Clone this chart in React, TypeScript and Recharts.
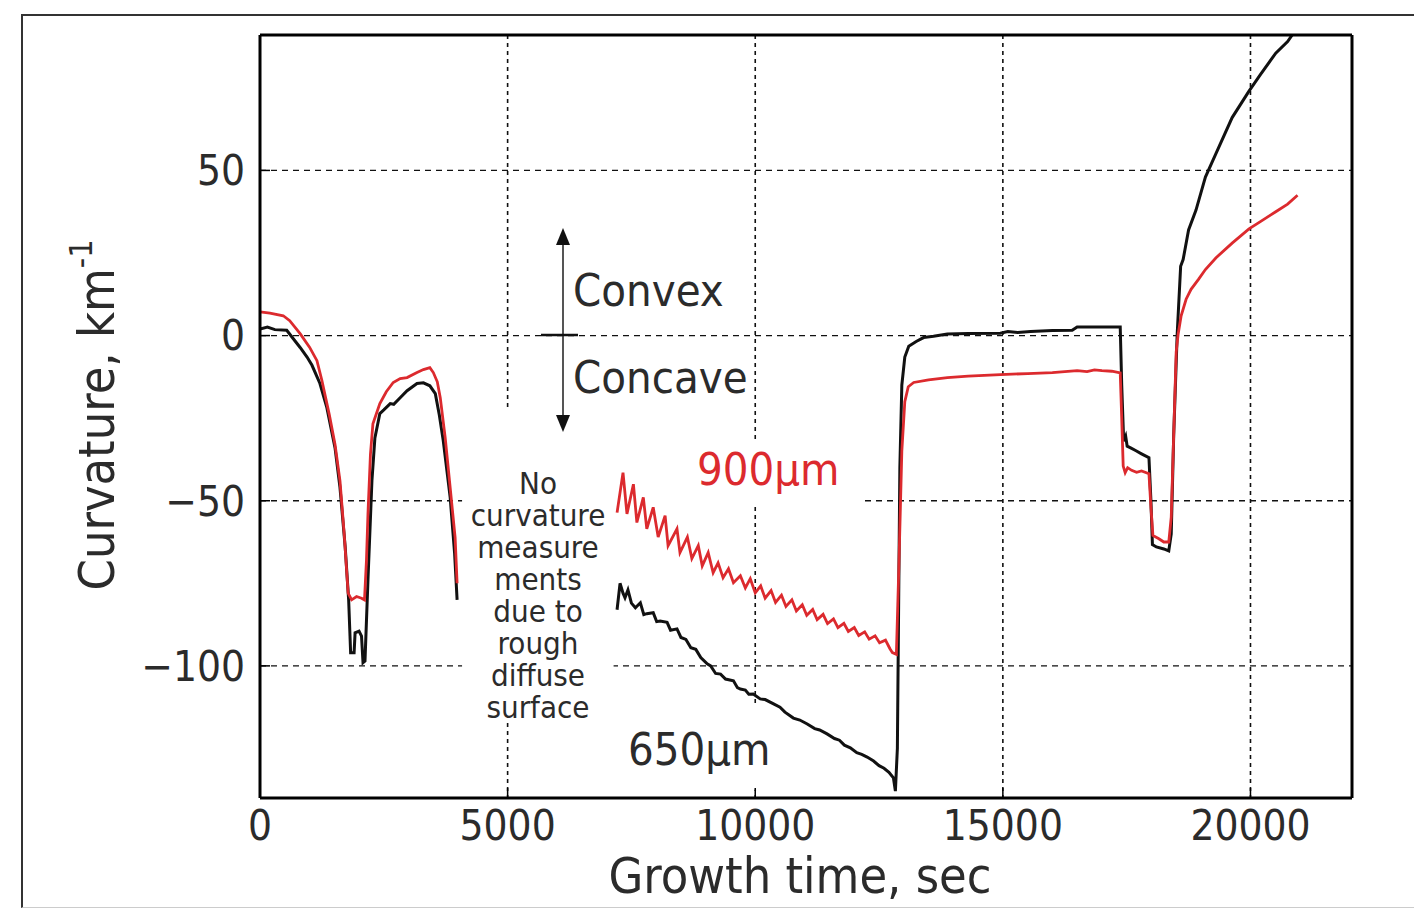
import React from 'react';
import {
  LineChart, Line, XAxis, YAxis, CartesianGrid, ReferenceArea
} from 'recharts';

// [growth time (s), curvature (km^-1)]
const black650Early: [number, number][] = [
  [0, 2.0], [150, 2.6], [300, 1.8], [540, 1.6], [700, -1.5], [810, -3.6], [950, -6.5],
  [1050, -9], [1210, -14.5], [1350, -21.8], [1515, -34], [1615, -46], [1720, -64],
  [1790, -80], [1830, -96], [1900, -96], [1920, -90], [2000, -89.5], [2050, -91],
  [2080, -99], [2120, -98.5], [2180, -74], [2260, -44], [2320, -31], [2420, -23.6],
  [2500, -22.5], [2630, -20.6], [2700, -20.8], [2830, -18.8], [2970, -16.7],
  [3170, -14.5], [3300, -14.3], [3430, -15.2], [3540, -17.6], [3620, -24],
  [3700, -31.8], [3840, -49], [3930, -66], [3980, -80],
];

const black650Late: [number, number][] = [
  [7210, -83], [7270, -75], [7330, -78], [7370, -79.4], [7430, -77], [7500, -81],
  [7580, -82.4], [7680, -80.9], [7750, -84.5], [7810, -84.2], [7940, -83.9],
  [8010, -86.6], [8080, -86.4], [8220, -86.8], [8290, -89.2], [8420, -88.8],
  [8500, -91.4], [8600, -92], [8700, -94.5], [8800, -95], [8900, -97.5],
  [9030, -99.4], [9100, -100], [9200, -102.3], [9300, -102.5], [9400, -104],
  [9560, -104.5], [9640, -106.6], [9700, -107], [9800, -107.3], [9870, -108.6],
  [9960, -108.5], [10100, -110], [10200, -110.2], [10370, -111.5], [10500, -112.5],
  [10600, -114], [10770, -115.8], [10900, -116.4], [11050, -117.6], [11200, -119],
  [11300, -119.4], [11450, -120.6], [11600, -122], [11700, -122.5], [11800, -124],
  [11920, -124.8], [12050, -126.3], [12150, -126.8], [12260, -127.6], [12390, -128.8],
  [12500, -130.2], [12600, -131], [12700, -132.2], [12790, -133.9], [12830, -137.9],
  [12870, -125], [12920, -40], [12960, -15], [13020, -6.5], [13100, -3.2],
  [13250, -1.8], [13400, -0.6], [13600, -0.2], [13880, 0.5], [14300, 0.6],
  [14950, 0.7], [15100, 1.2], [15300, 0.9], [15560, 1.2], [16000, 1.5], [16400, 1.6],
  [16500, 2.6], [17000, 2.6], [17370, 2.6], [17400, -15], [17440, -32], [17480, -30.5],
  [17510, -33.5], [17580, -34], [17680, -34.8], [17800, -35.8], [17950, -37],
  [17990, -50], [18020, -63.3], [18100, -64], [18250, -64.6], [18350, -65.2],
  [18400, -60], [18450, -30], [18520, 0.4], [18590, 21], [18640, 23], [18750, 32],
  [18900, 38], [19090, 48], [19300, 55], [19630, 66], [19970, 74], [20200, 79],
  [20510, 85.5], [20750, 89], [20910, 92.5],
];

const red900Early: [number, number][] = [
  [0, 7.2], [200, 6.8], [470, 6], [600, 4.5], [810, 0.6], [1000, -3.5], [1150, -7.6],
  [1250, -13.6], [1400, -24], [1515, -33], [1615, -44], [1700, -60], [1780, -78],
  [1850, -80], [1950, -79], [2050, -79.5], [2110, -80], [2150, -68], [2180, -54],
  [2230, -36], [2280, -26.7], [2420, -20.6], [2550, -17], [2690, -14.2], [2830, -13],
  [2970, -12.7], [3170, -11.2], [3300, -10.3], [3430, -9.7], [3500, -11.2],
  [3580, -14], [3640, -18.8], [3740, -31], [3840, -46], [3940, -61.2], [3980, -75],
];

const red900Late: [number, number][] = [
  [7210, -53.6], [7330, -41.5], [7410, -54], [7540, -45], [7610, -56.6], [7740, -49],
  [7810, -58.5], [7940, -52], [8040, -61], [8180, -54.5], [8240, -63.6], [8420, -58.5],
  [8480, -65.7], [8630, -61], [8720, -67.5], [8850, -63.6], [8930, -69.7], [9050, -65.7],
  [9150, -71.8], [9250, -68.8], [9350, -73.3], [9460, -70.6], [9560, -74.8],
  [9700, -72.7], [9800, -76.4], [9900, -73.6], [10000, -77.9], [10110, -75.8],
  [10200, -79.5], [10320, -77.2], [10410, -80.8], [10530, -78.6], [10620, -82],
  [10740, -80], [10830, -83.4], [10950, -81.5], [11040, -84.7], [11160, -82.9],
  [11250, -86], [11370, -84.4], [11460, -87.2], [11580, -85.8], [11670, -88.4],
  [11790, -87.1], [11880, -89.6], [12000, -88.4], [12090, -90.8], [12210, -89.7],
  [12300, -91.9], [12420, -90.9], [12510, -93], [12630, -92.2], [12720, -94.8],
  [12770, -96], [12850, -96.5], [12900, -70], [12960, -35], [13020, -20],
  [13090, -15.5], [13200, -14.2], [13500, -13.4], [13880, -12.7], [14300, -12.3],
  [14950, -11.8], [15500, -11.5], [16000, -11.2], [16500, -10.6], [16700, -10.9],
  [16850, -10.4], [17000, -10.6], [17200, -10.8], [17370, -11.3], [17400, -25],
  [17430, -39.5], [17470, -41.5], [17520, -40], [17600, -40.8], [17700, -41.4],
  [17800, -41], [17950, -41.8], [17990, -52], [18030, -60.5], [18150, -61.5],
  [18250, -62.5], [18350, -62.5], [18400, -55], [18460, -25], [18500, -5],
  [18540, 0.5], [18600, 6], [18700, 11], [18800, 14], [18950, 17], [19090, 20],
  [19300, 23.5], [19630, 28], [19970, 32.3], [20200, 34.5], [20510, 37.5],
  [20750, 39.8], [20950, 42.5],
];

const xTicks = [0, 5000, 10000, 15000, 20000];
const yTicks = [-100, -50, 0, 50];

const FONT = "'DejaVu Sans Condensed', 'DejaVu Sans', sans-serif";
const TEXT = '#2b2b2b';
const RED = '#dc2a2e';

const toRows = (pts: [number, number][]) => pts.map(([t, v]) => ({ t, v }));
const fmtY = (v: number) => (v < 0 ? '\u2212' + Math.abs(v) : String(v));

const noteLines = ['No', 'curvature', 'measure', 'ments', 'due to', 'rough', 'diffuse', 'surface'];

const App: React.FC = () => {
  return (
    <div style={{ position: 'relative', width: 1414, height: 900 }}>
      <style>{'html, body { overflow: hidden; }'}</style>
      {/* outer frame of the figure */}
      <div style={{
        position: 'absolute', left: 13, top: 6, width: 1410, height: 891,
        borderLeft: '2px solid #333', borderTop: '2px solid #333', borderBottom: '1px solid #ccc',
      }} />
      <div style={{ position: 'absolute', left: -8, top: -8 }}>
        <LineChart width={1400} height={900} margin={{ top: 25, right: 38, left: 180, bottom: 42 }}>
          <CartesianGrid vertical={false} stroke="#111" strokeWidth={1.4} strokeDasharray="6 5" />
          <CartesianGrid horizontal={false} stroke="#111" strokeWidth={1.6} strokeDasharray="4 4" />
          <XAxis
            dataKey="t" type="number" domain={[0, 22050]} ticks={xTicks} allowDataOverflow
            height={60} tickSize={-10} tickMargin={22}
            axisLine={{ stroke: '#000', strokeWidth: 3 }} tickLine={{ stroke: '#000', strokeWidth: 1.5 }}
            tick={{ fontSize: 42, fill: TEXT, fontFamily: FONT }}
          />
          <XAxis
            xAxisId="top" orientation="top" dataKey="t" type="number" domain={[0, 22050]}
            ticks={xTicks} height={10} tickSize={-10} tick={false}
            axisLine={{ stroke: '#000', strokeWidth: 3 }} tickLine={{ stroke: '#000', strokeWidth: 1.5 }}
          />
          <YAxis
            type="number" domain={[-140, 91]} ticks={yTicks} allowDataOverflow
            width={80} tickSize={-10} tickMargin={25} tickFormatter={fmtY}
            axisLine={{ stroke: '#000', strokeWidth: 3 }} tickLine={{ stroke: '#000', strokeWidth: 1.5 }}
            tick={{ fontSize: 42, fill: TEXT, fontFamily: FONT }}
          />
          <YAxis
            yAxisId="right" orientation="right" type="number" domain={[-140, 91]} ticks={yTicks}
            width={10} tickSize={-10} tick={false}
            axisLine={{ stroke: '#000', strokeWidth: 3 }} tickLine={{ stroke: '#000', strokeWidth: 1.5 }}
          />
          {/* white text boxes that hide the grid behind the annotations */}
          <ReferenceArea x1={4080} x2={7140} y1={-117} y2={-22.7} fill="#fff" fillOpacity={1} stroke="none" ifOverflow="visible" />
          <ReferenceArea x1={7110} x2={12150} y1={-51.5} y2={-31.8} fill="#fff" fillOpacity={1} stroke="none" ifOverflow="visible" />
          <ReferenceArea x1={7170} x2={10900} y1={-137.5} y2={-112} fill="#fff" fillOpacity={1} stroke="none" ifOverflow="visible" />
          <Line data={toRows(black650Early)} dataKey="v" type="linear" stroke="#111" strokeWidth={3} dot={false} isAnimationActive={false} />
          <Line data={toRows(black650Late)} dataKey="v" type="linear" stroke="#111" strokeWidth={3} dot={false} isAnimationActive={false} />
          <Line data={toRows(red900Early)} dataKey="v" type="linear" stroke={RED} strokeWidth={2.8} dot={false} isAnimationActive={false} />
          <Line data={toRows(red900Late)} dataKey="v" type="linear" stroke={RED} strokeWidth={2.8} dot={false} isAnimationActive={false} />
        </LineChart>
      </div>
      {/* annotations, in page coordinates */}
      <svg width={1400} height={906} style={{ position: 'absolute', left: -8, top: -8, pointerEvents: 'none' }}>
        <g fontFamily={FONT} fill={TEXT}>
          <line x1={563} y1={240} x2={563} y2={420} stroke="#555" strokeWidth={2} />
          <polygon points="563,228 556,245 570,245" fill="#111" />
          <polygon points="563,432 556,415 570,415" fill="#111" />
          <line x1={541} y1={335} x2={578} y2={335} stroke="#111" strokeWidth={2.5} />
          <text x={573} y={306} fontSize={45}>Convex</text>
          <text x={573} y={393} fontSize={45}>Concave</text>
          <text x={697} y={485} fontSize={45} fill={RED}>900μm</text>
          <text x={628} y={765} fontSize={45}>650μm</text>
          <text x={538} y={494} fontSize={31} textAnchor="middle">
            {noteLines.map((s, i) => (
              <tspan key={s} x={538} dy={i === 0 ? 0 : 32}>{s}</tspan>
            ))}
          </text>
          <text x={800} y={893} fontSize={50} textAnchor="middle">Growth time, sec</text>
          <text transform="translate(114,415) rotate(-90)" fontSize={50} textAnchor="middle">
            Curvature, km<tspan dy={-22} fontSize={32}>-1</tspan>
          </text>
        </g>
      </svg>
    </div>
  );
};

export default App;
